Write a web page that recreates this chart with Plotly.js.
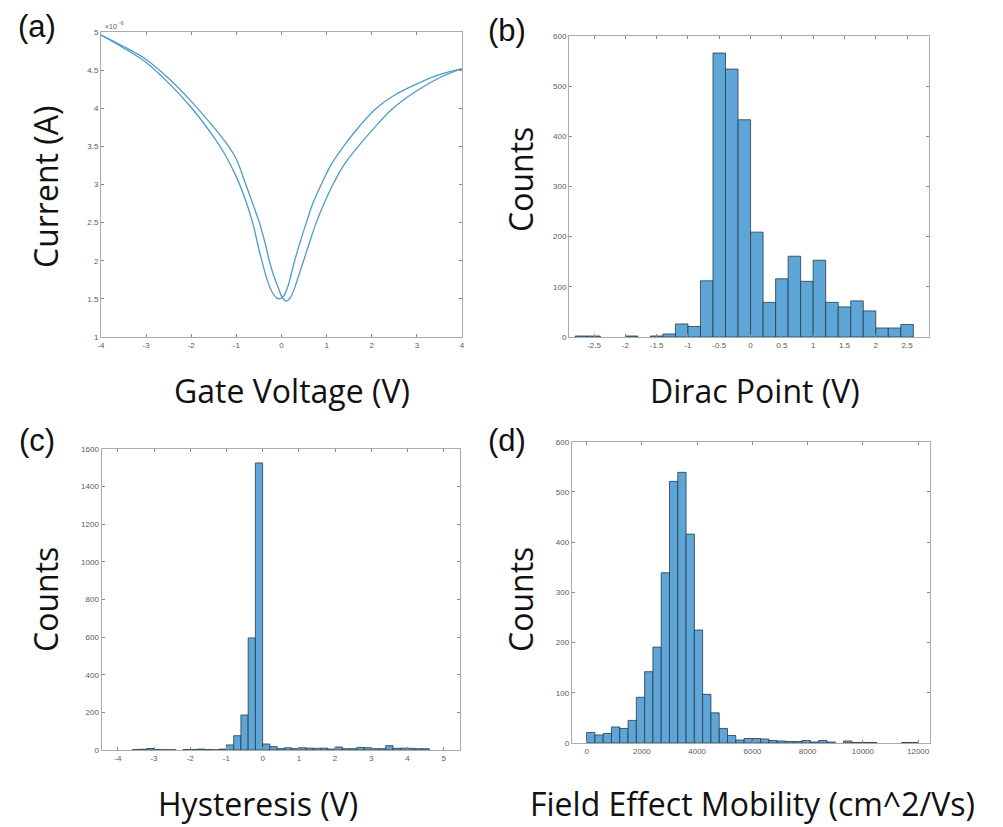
<!DOCTYPE html>
<html>
<head>
<meta charset="utf-8">
<script src="https://cdn.plot.ly/plotly-3.0.1.min.js"></script>
<style>html,body{margin:0;padding:0;background:#fff;}#chart{width:1003px;height:827px;}</style>
</head>
<body>
<div id="chart"></div>
<script>
// ---------- (a) transfer curves (current in units of 1e-6 A) ----------
const gateFwd = [-4, -3.5, -3, -2.5, -2, -1.5, -1.25, -1, -0.8, -0.64, -0.5, -0.4, -0.3, -0.2, -0.1, -0.05, 0.05, 0.15, 0.29, 0.4, 0.55, 0.7, 0.88, 1.1, 1.4, 1.75, 2.1, 2.5, 3, 3.5, 4];
const currFwd = [4.96, 4.79, 4.60, 4.33, 4.01, 3.62, 3.39, 3.10, 2.80, 2.50, 2.15, 1.92, 1.72, 1.58, 1.51, 1.50, 1.54, 1.68, 2.00, 2.22, 2.50, 2.76, 3.00, 3.26, 3.52, 3.78, 4.00, 4.17, 4.32, 4.44, 4.52];
const gateRev = [-4, -3.5, -3, -2.5, -2, -1.5, -1.17, -1, -0.79, -0.62, -0.49, -0.35, -0.27, -0.17, -0.08, 0, 0.1, 0.2, 0.3, 0.4, 0.49, 0.62, 0.77, 0.95, 1.14, 1.4, 1.7, 2.05, 2.47, 3, 3.5, 4];
const currRev = [4.96, 4.81, 4.64, 4.39, 4.09, 3.75, 3.50, 3.33, 3.00, 2.72, 2.50, 2.20, 2.00, 1.80, 1.66, 1.54, 1.47, 1.52, 1.66, 1.84, 2.00, 2.24, 2.50, 2.76, 3.00, 3.27, 3.50, 3.74, 4.00, 4.23, 4.40, 4.52];

// ---------- (b) Dirac point histogram ----------
const diracBinStart = [-2.8, -2.6, -2.4, -2.2, -2.0, -1.8, -1.6, -1.4, -1.2, -1.0, -0.8, -0.6, -0.4, -0.2, 0, 0.2, 0.4, 0.6, 0.8, 1.0, 1.2, 1.4, 1.6, 1.8, 2.0, 2.2, 2.4];
const diracCounts   = [2, 2, 0, 0, 2, 0, 2, 6, 26, 21, 112, 566, 534, 433, 209, 69, 116, 161, 111, 153, 69, 60, 72, 52, 18, 18, 25];
const diracBinWidth = 0.2;

// ---------- (c) Hysteresis histogram ----------
const hystBinStart = [-3.6, -3.4, -3.2, -3.0, -2.8, -2.6, -2.4, -2.2, -2.0, -1.8, -1.6, -1.4, -1.2, -1.0, -0.8, -0.6, -0.4, -0.2, 0.0, 0.2, 0.4, 0.6, 0.8, 1.0, 1.2, 1.4, 1.6, 1.8, 2.0, 2.2, 2.4, 2.6, 2.8, 3.0, 3.2, 3.4, 3.6, 3.8, 4.0, 4.2, 4.4];
const hystCounts   = [2, 4, 8, 2, 1, 1, 0, 2, 3, 5, 2, 1, 5, 27, 76, 186, 596, 1526, 32, 18, 7, 12, 7, 12, 10, 9, 10, 5, 16, 7, 7, 14, 12, 7, 7, 23, 9, 10, 9, 7, 7];
const hystBinWidth = 0.2;

// ---------- (d) Field effect mobility histogram ----------
const mobBinStart = [0, 300, 600, 900, 1200, 1500, 1800, 2100, 2400, 2700, 3000, 3300, 3600, 3900, 4200, 4500, 4800, 5100, 5400, 5700, 6000, 6300, 6600, 6900, 7200, 7500, 7800, 8100, 8400, 8700, 9000, 9300, 9600, 9900, 10200, 11400, 11700];
const mobCounts   = [21, 16, 19, 32, 29, 45, 91, 142, 191, 339, 521, 539, 416, 225, 97, 60, 29, 15, 6, 9, 9, 8, 5, 4, 3, 3, 5, 2, 5, 2, 0, 4, 1, 1, 1, 1, 1];
const mobBinWidth = 300;

// tick labels
const ticksA_x = [-4, -3, -2, -1, 0, 1, 2, 3, 4];
const ticksA_y = [1, 1.5, 2, 2.5, 3, 3.5, 4, 4.5, 5];
const ticksB_x = [-2.5, -2, -1.5, -1, -0.5, 0, 0.5, 1, 1.5, 2, 2.5];
const ticksB_y = [0, 100, 200, 300, 400, 500, 600];
const ticksC_x = [-4, -3, -2, -1, 0, 1, 2, 3, 4, 5];
const ticksC_y = [0, 200, 400, 600, 800, 1000, 1200, 1400, 1600];
const ticksD_x = [0, 2000, 4000, 6000, 8000, 10000, 12000];
const ticksD_y = [0, 100, 200, 300, 400, 500, 600];

// ---------- layout helpers ----------
const W = 1003, H = 827;
const px = v => v / W;
const py = v => 1 - v / H;

const lineCol = '#4d9bc8';
const barFill = '#5fa6d8';
const barEdge = '#2b3a45';
const FONT = 'Arial, "Liberation Sans", Helvetica, sans-serif';
const TFONT = '"Open Sans", "Noto Sans", Arial, sans-serif';

function axisStyle(vals, extra) {
  return Object.assign({
    showgrid: false, zeroline: false, showline: true, mirror: 'ticks',
    linecolor: '#ababab', linewidth: 1, ticks: 'inside', ticklen: 3,
    tickcolor: '#8a8a8a', tickwidth: 1,
    tickfont: {family: FONT, size: 8, color: '#5a5a5a'},
    tickmode: 'array', tickvals: vals, ticktext: vals.map(v => String(v)),
    fixedrange: true
  }, extra);
}

function histTrace(starts, counts, width, xa, ya) {
  const xs = [], ys = [];
  starts.forEach((s, i) => { if (counts[i] > 0) { xs.push(s); ys.push(counts[i]); } });
  return {
    type: 'bar', x: xs, y: ys, width: width, offset: 0,
    xaxis: xa, yaxis: ya,
    marker: {color: barFill, line: {color: barEdge, width: 0.8}},
    hoverinfo: 'x+y', showlegend: false
  };
}

const curveLine = {color: lineCol, width: 1.3, shape: 'spline', smoothing: 1};
const traces = [
  {type: 'scatter', mode: 'lines', x: gateFwd, y: currFwd, line: curveLine, xaxis: 'x', yaxis: 'y', showlegend: false},
  {type: 'scatter', mode: 'lines', x: gateRev, y: currRev, line: curveLine, xaxis: 'x', yaxis: 'y', showlegend: false},
  histTrace(diracBinStart, diracCounts, diracBinWidth, 'x2', 'y2'),
  histTrace(hystBinStart, hystCounts, hystBinWidth, 'x3', 'y3'),
  histTrace(mobBinStart, mobCounts, mobBinWidth, 'x4', 'y4')
];

const titleFont = {family: TFONT, size: 32, color: '#111'};
const labelFont = {family: FONT, size: 31, color: '#111'};

function ann(text, x, y, font, angle, xanchor) {
  return {text: text, xref: 'paper', yref: 'paper', x: px(x), y: py(y), xanchor: xanchor || 'center', yanchor: 'middle',
          showarrow: false, font: font, textangle: angle || 0};
}

const smallFont = {family: FONT, size: 7, color: '#5a5a5a'};
const tinyFont = {family: FONT, size: 5, color: '#5a5a5a'};

const layout = {
  width: W, height: H,
  margin: {l: 0, r: 0, t: 0, b: 0},
  paper_bgcolor: '#fff', plot_bgcolor: '#fff',
  bargap: 0,
  xaxis:  axisStyle(ticksA_x, {domain: [px(101), px(462)], range: [-4, 4], anchor: 'y'}),
  yaxis:  axisStyle(ticksA_y, {domain: [py(337), py(32)], range: [1, 5], anchor: 'x'}),
  xaxis2: axisStyle(ticksB_x, {domain: [px(569), px(929)], range: [-2.9, 2.85], anchor: 'y2'}),
  yaxis2: axisStyle(ticksB_y, {domain: [py(337), py(36)], range: [0, 600], anchor: 'x2'}),
  xaxis3: axisStyle(ticksC_x, {domain: [px(101.5), px(460)], range: [-4.45, 5.45], anchor: 'y3'}),
  yaxis3: axisStyle(ticksC_y, {domain: [py(750), py(449)], range: [0, 1600], anchor: 'x3'}),
  xaxis4: axisStyle(ticksD_x, {domain: [px(571.7), px(930)], range: [-540, 12430], anchor: 'y4'}),
  yaxis4: axisStyle(ticksD_y, {domain: [py(743), py(441.7)], range: [0, 600], anchor: 'x4'}),
  annotations: [
    ann('×10', 103, 27, smallFont, 0, 'left'),
    ann('-6', 117, 23, tinyFont, 0, 'left'),
    ann('(a)', 37, 27, labelFont),
    ann('(b)', 507, 30, labelFont),
    ann('(c)', 37, 440, labelFont),
    ann('(d)', 507, 440, labelFont),
    ann('Gate Voltage (V)', 292, 390, titleFont),
    ann('Dirac Point (V)', 755, 390, titleFont),
    ann('Hysteresis (V)', 258, 803, titleFont),
    ann('Field Effect Mobility (cm^2/Vs)', 752, 803, titleFont),
    ann('Current (A)', 45, 187, titleFont, -90),
    ann('Counts', 520, 180, titleFont, -90),
    ann('Counts', 45, 600, titleFont, -90),
    ann('Counts', 520, 600, titleFont, -90)
  ]
};

Plotly.newPlot('chart', traces, layout, {displayModeBar: false, staticPlot: true});
</script>
</body>
</html>
